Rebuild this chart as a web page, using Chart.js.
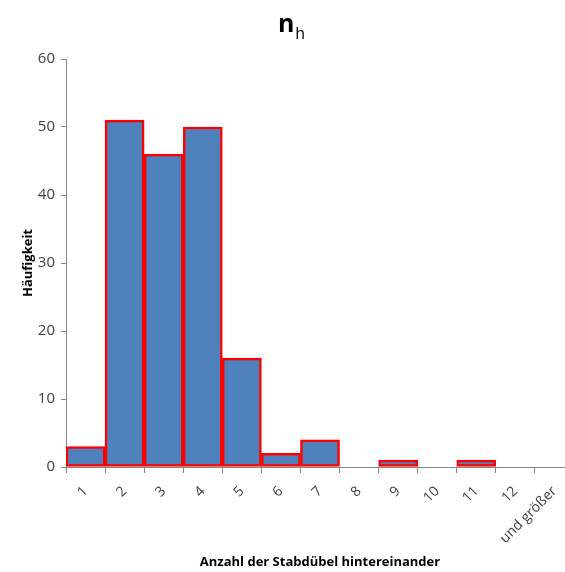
<!DOCTYPE html>
<html>
<head>
<meta charset="utf-8">
<script src="https://cdn.jsdelivr.net/npm/chart.js@4"></script>
<style>
  html, body { margin: 0; padding: 0; overflow: hidden; background: #fff; }
  #wrap { width: 600px; height: 572px; }
</style>
</head>
<body>
<div id="wrap"><canvas id="chart" width="600" height="572"></canvas></div>
<script>
const categories = ["1", "2", "3", "4", "5", "6", "7", "8", "9", "10", "11", "12", "und größer"];
const counts = [3, 51, 46, 50, 16, 2, 4, 0, 1, 0, 1, 0, 0];
const yTicks = [0, 10, 20, 30, 40, 50, 60];

const fontFamily = "'Open Sans', 'Noto Sans', sans-serif";

// title "n" with subscript "h"
const subTitle = {
    id: "subTitle",
    afterDraw(chart) {
        const ctx = chart.ctx;
        ctx.save();
        ctx.fillStyle = "#000";
        ctx.textBaseline = "alphabetic";
        ctx.font = "bold 25px " + fontFamily;
        const wN = ctx.measureText("n").width;
        ctx.font = "16px " + fontFamily;
        const wH = ctx.measureText("h").width;
        const x0 = 291 - (wN + wH) / 2;
        ctx.font = "bold 25px " + fontFamily;
        ctx.fillText("n", x0, 32);
        ctx.font = "16px " + fontFamily;
        ctx.fillText("h", x0 + wN + 1, 39);
        ctx.restore();
    },
};

new Chart(document.getElementById("chart"), {
    type: "bar",
    data: {
        labels: categories,
        datasets: [
            {
                // empty classes are left out so no red line is drawn for them
                data: counts.map((v) => (v === 0 ? null : v)),
                backgroundColor: "#4F81BD",
                borderColor: "#FF0000",
                borderWidth: 2.5,
                borderSkipped: false,
                barPercentage: 1,
                categoryPercentage: 1,
            },
        ],
    },
    options: {
        responsive: false,
        animation: false,
        layout: { padding: { top: 59, right: 26, bottom: 0, left: 0 } },
        plugins: {
            legend: { display: false },
            tooltip: { enabled: false },
        },
        scales: {
            x: {
                afterFit: (scale) => { scale.height = 105; },
                grid: { drawOnChartArea: false, color: "#868686", tickLength: 6, offset: true },
                border: { color: "#868686" },
                ticks: {
                    color: "#404040",
                    font: { family: fontFamily, size: 14 },
                    minRotation: 45,
                    maxRotation: 45,
                    padding: 10,
                },
                title: {
                    display: true,
                    text: "Anzahl der Stabdübel hintereinander",
                    color: "#000",
                    font: { family: fontFamily, size: 13, weight: "bold" },
                    padding: { top: 8, bottom: 2 },
                },
            },
            y: {
                min: 0,
                max: 60,
                afterFit: (scale) => { scale.width = 66; },
                afterBuildTicks: (scale) => { scale.ticks = yTicks.map((v) => ({ value: v })); },
                grid: { drawOnChartArea: false, color: "#868686", tickLength: 5 },
                border: { color: "#868686" },
                ticks: {
                    color: "#404040",
                    font: { family: fontFamily, size: 15 },
                    padding: 6,
                },
                title: {
                    display: true,
                    text: "Häufigkeit",
                    color: "#000",
                    font: { family: fontFamily, size: 13, weight: "bold" },
                    padding: { top: 20, bottom: 0 },
                },
            },
        },
    },
    plugins: [subTitle],
});
</script>
</body>
</html>
